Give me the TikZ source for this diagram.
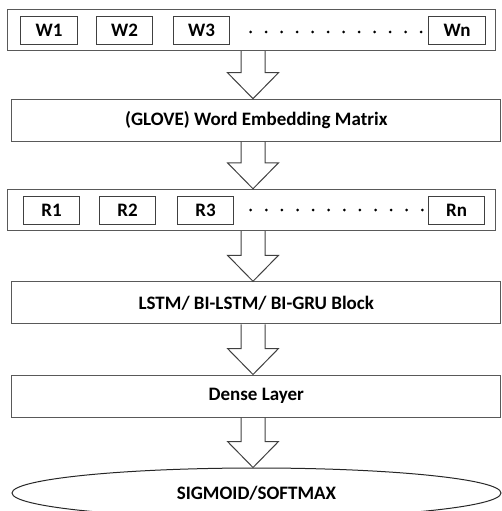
\documentclass[tikz,border=0pt]{standalone}
\usepackage{fontspec}
\setmainfont{Carlito}
\usetikzlibrary{shapes.geometric,calc}

\begin{document}
\begin{tikzpicture}[x=1pt, y=-1pt,
    layer/.style={draw=black!65, line width=1pt, minimum width=489.3, minimum height=42, inner sep=0pt, font=\bfseries\fontsize{19}{21}\selectfont},
    row/.style={draw=black!65, line width=1pt, minimum width=487.7, minimum height=41.4, inner sep=0pt},
    token/.style={draw=black!75, line width=1pt, minimum width=56.5, minimum height=28, inner sep=0pt, font=\bfseries\fontsize{19}{21}\selectfont},
    hollow/.style={draw=black!75, line width=1pt, line join=miter}]

    % Picture frame
    \clip (0,0) rectangle (502,511);

    % Input words
    \node[row] (words) at (251.2,30) {};
    \node[token] (w1) at (49,30.5) {W1};
    \node[token] (w2) at (124.5,30.5) {W2};
    \node[token] (w3) at (201.5,30.5) {W3};
    \node[token] (wn) at (457,30.5) {Wn};
    \foreach \i in {0,...,11}
        \fill (250.7+15.5*\i,32) circle[radius=1.5pt];

    % Embedding layer
    \node[layer] (glove) at (256.3,120.2) {(GLOVE) Word Embedding Matrix};

    % Word vectors
    \node[row] (reps) at (251.2,210) {};
    \node[token] (r1) at (51.5,210) {R1};
    \node[token] (r2) at (127.5,210) {R2};
    \node[token] (r3) at (205.5,210) {R3};
    \node[token] (rn) at (456.5,210) {Rn};
    \foreach \i in {0,...,11}
        \fill (250.7+15.6*\i,210) circle[radius=1.5pt];

    % Recurrent and dense layers
    \node[layer] (rnn) at (256.3,302.8) {LSTM/ BI-LSTM/ BI-GRU Block};
    \node[layer] (dense) at (256.3,396) {Dense Layer};

    % Output
    \node[ellipse, draw=black!85, line width=1pt, minimum width=489, minimum height=50, inner sep=0pt,
          font=\bfseries\fontsize{19}{21}\selectfont] (out) at (256.5,493) {SIGMOID/SOFTMAX};

    % Block arrows between the stages
    \foreach \a/\b in {words/glove, glove/reps, reps/rnn, rnn/dense, dense/out} {
        \draw[hollow] let \p1=(\a.south), \p2=(\b.north) in
            (241pt,\y1) -- (241pt,{\y2+26pt}) -- (227.5pt,{\y2+26pt}) -- (253pt,\y2)
            -- (278.5pt,{\y2+26pt}) -- (265pt,{\y2+26pt}) -- (265pt,\y1);
    }

\end{tikzpicture}
\end{document}
